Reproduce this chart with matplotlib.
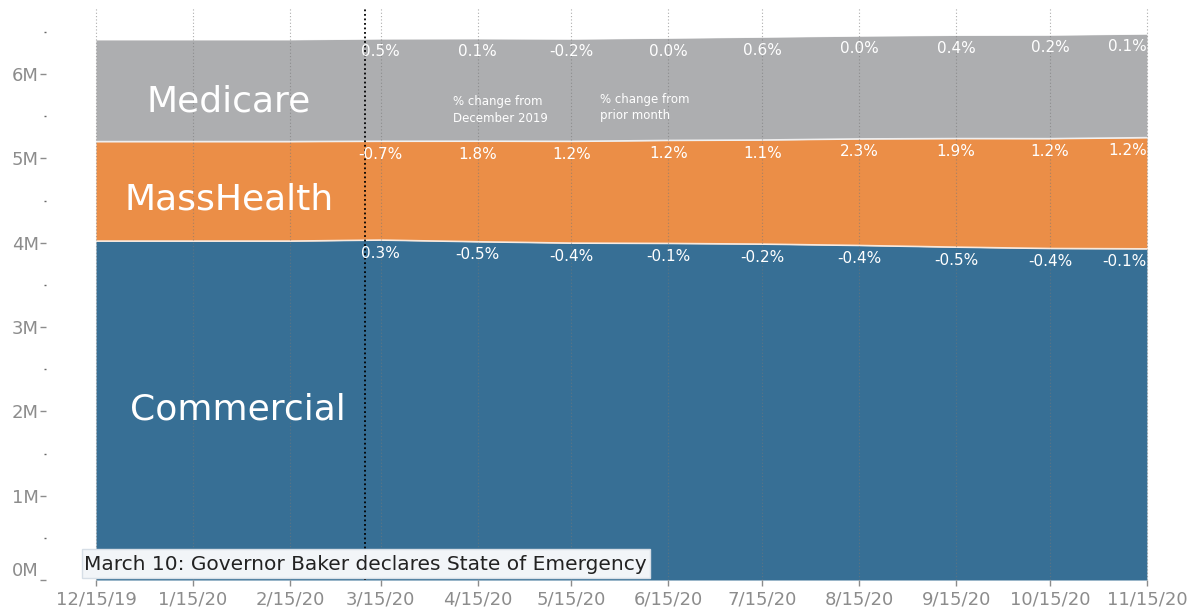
import numpy as np
import pandas as pd
import matplotlib
matplotlib.use("Agg")
import matplotlib.pyplot as plt
import matplotlib.dates as mdates
from matplotlib.patches import Rectangle

dates = pd.to_datetime(["2019-12-15", "2020-01-15", "2020-02-15", "2020-03-15",
                        "2020-04-15", "2020-05-15", "2020-06-15", "2020-07-15",
                        "2020-08-15", "2020-09-15", "2020-10-15", "2020-11-15"])

# enrollment, millions
commercial = [4.020, 4.020, 4.020, 4.032, 4.012, 3.996, 3.992, 3.984, 3.968, 3.948, 3.932, 3.928]
masshealth = [1.180, 1.180, 1.180, 1.172, 1.193, 1.207, 1.222, 1.235, 1.264, 1.288, 1.303, 1.319]
medicare = [1.210, 1.210, 1.210, 1.216, 1.217, 1.215, 1.215, 1.222, 1.222, 1.227, 1.230, 1.231]

# labels shown from 3/15/20 onward
pct_medicare = ["0.5%", "0.1%", "-0.2%", "0.0%", "0.6%", "0.0%", "0.4%", "0.2%", "0.1%"]
pct_masshealth = ["-0.7%", "1.8%", "1.2%", "1.2%", "1.1%", "2.3%", "1.9%", "1.2%", "1.2%"]
pct_commercial = ["0.3%", "-0.5%", "-0.4%", "-0.1%", "-0.2%", "-0.4%", "-0.5%", "-0.4%", "-0.1%"]

c_med = "#adaeb0"
c_mh = "#eb8e47"
c_com = "#376f95"

fig = plt.figure(figsize=(11.95, 6.14), dpi=100)
ax = fig.add_axes([46 / 1195, 34 / 614, (1150 - 46) / 1195, (606 - 34) / 614])

x = mdates.date2num(dates)
com = np.array(commercial)
mh = com + np.array(masshealth)
med = mh + np.array(medicare)

ax.fill_between(x, 0, com, color=c_com, lw=0, zorder=1)
ax.fill_between(x, com, mh, color=c_mh, lw=0, zorder=1)
ax.fill_between(x, mh, med, color=c_med, lw=0, zorder=1)
for top in (com, mh, med):
    ax.plot(x, top, color="white", lw=1.2, alpha=0.8, zorder=2)

ax.set_xlim(mdates.date2num(pd.Timestamp("2019-11-29")), mdates.date2num(pd.Timestamp("2020-11-16")))
ax.set_ylim(0, 6.785)

ax.set_xticks(x)
ax.set_xticklabels([d.strftime("%-m/%-d/%y") for d in dates])
ax.set_yticks(range(0, 7))
ax.set_yticklabels([f"{i}M" for i in range(0, 7)])
ax.set_yticks(np.arange(0.5, 7, 1), minor=True)
ax.tick_params(axis="both", colors="#8c8c8c", labelsize=13, length=4, width=1)
ax.tick_params(axis="y", pad=1)
ax.tick_params(axis="y", which="minor", length=1.5, width=1, colors="#666666")
ax.get_yticklabels()[0].set_va("bottom")
for s in ax.spines.values():
    s.set_visible(False)
ax.xaxis.grid(True, ls=(0, (1, 2)), color="#777777", lw=0.8, alpha=0.6, zorder=3)
ax.set_axisbelow(False)

# state of emergency line
ax.axvline(mdates.date2num(pd.Timestamp("2020-03-10")), color="black", ls=(0, (1, 1.5)), lw=1.3, zorder=4)

# percent labels
for series, labels in ((med, pct_medicare), (mh, pct_masshealth), (com, pct_commercial)):
    for i, lab in enumerate(labels):
        k = i + 3
        ha = "right" if k == len(x) - 1 else "center"
        ax.annotate(lab, (x[k], series[k]), xytext=(0, -13), textcoords="offset pixels",
                    ha=ha, va="center", color="white", fontsize=11, zorder=5)

# band names
ax.annotate("Medicare", (x[0], med[0]), xytext=(133, -62), textcoords="offset pixels",
            ha="center", va="center", color="white", fontsize=26)
ax.annotate("MassHealth", (x[0], mh[0]), xytext=(133, -58), textcoords="offset pixels",
            ha="center", va="center", color="white", fontsize=26)
ax.annotate("Commercial", (x[0], com[0]), xytext=(142, -168), textcoords="offset pixels",
            ha="center", va="center", color="white", fontsize=26)

fig.text(453 / 1195, 1 - 110 / 614, "% change from\nDecember 2019", color="white",
         fontsize=8.5, va="center", ha="left", linespacing=1.3)
fig.text(600 / 1195, 1 - 108 / 614, "% change from\nprior month", color="white",
         fontsize=8.5, va="center", ha="left", linespacing=1.3)

# annotation box
fig.patches.append(Rectangle((82 / 1195, 1 - 578 / 614), (650 - 82) / 1195, 29 / 614,
                             transform=fig.transFigure, facecolor="#f2f5f8",
                             edgecolor="#d6dee6", lw=1, zorder=10))
fig.text(84 / 1195, 1 - 564 / 614, "March 10: Governor Baker declares State of Emergency",
         color="#222222", fontsize=14.5, va="center", ha="left", zorder=11)

fig.savefig("out.png", dpi=100)
